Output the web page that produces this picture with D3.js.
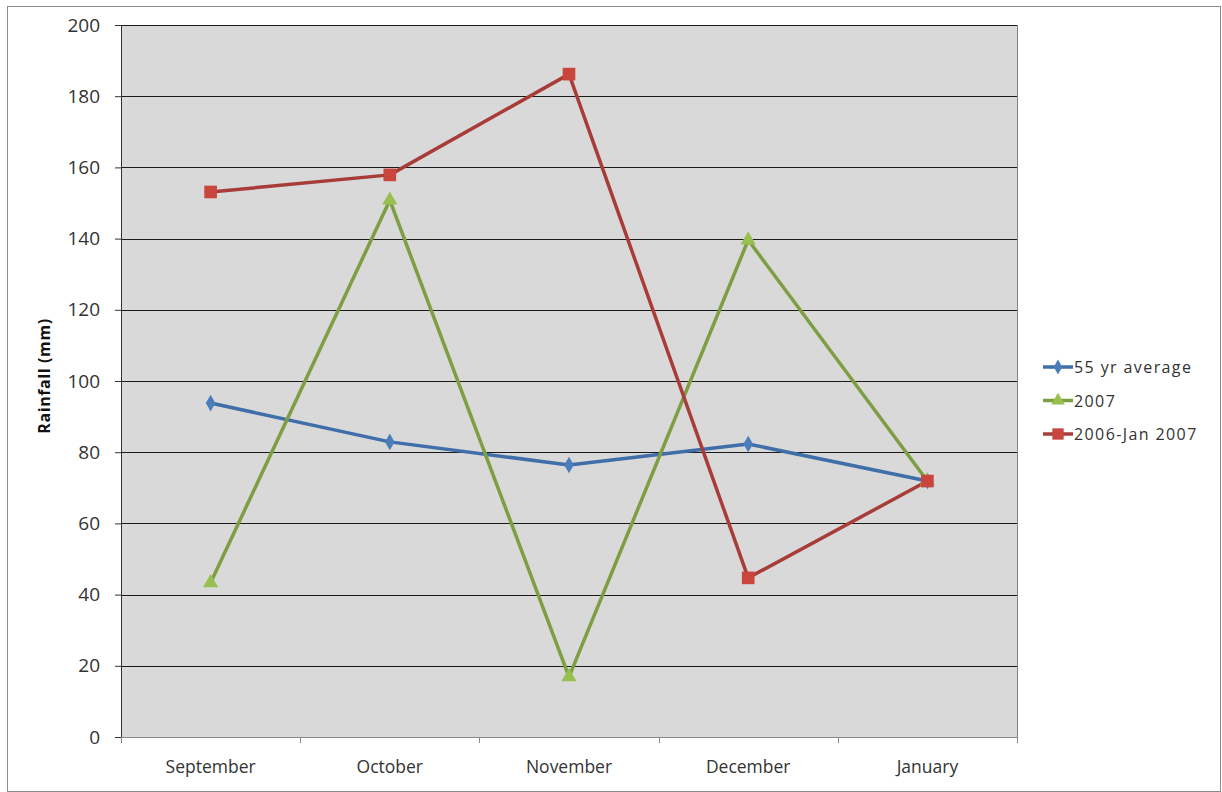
<!DOCTYPE html>
<html><head><meta charset="utf-8">
<script src="https://cdn.jsdelivr.net/npm/d3@7"></script>
<style>body{margin:0;background:#fff}svg{display:block}text{font-family:"Open Sans","Noto Sans",sans-serif}</style>
</head><body><svg id="c" width="1222" height="792"></svg>
<script>
const months = ["September","October","November","December","January"];
const avg55 = [93.8, 82.9, 76.4, 82.3, 71.9];
const y2007 = [43.3, 150.8, 16.9, 139.6, 71.9];
const y2006 = [153.1, 157.9, 186.2, 44.7, 71.9];
const yTicks = [0,20,40,60,80,100,120,140,160,180,200];
const seriesNames = ["55 yr average","2007","2006-Jan 2007"];

const svg = d3.select("#c");
const L=121, R=1017, T=25, B=737;
svg.append("rect").attr("x",7.5).attr("y",6.5).attr("width",1213).attr("height",785).attr("fill","#fff").attr("stroke","#8c8c8c");

const x = d3.scaleBand().domain(months).range([L,R]);
const y = d3.scaleLinear().domain([0,200]).range([B,T]);

svg.append("rect").attr("x",L).attr("y",T).attr("width",R-L).attr("height",B-T).attr("fill","#d9d9d9");
// grid
svg.append("g").selectAll("line").data(yTicks.filter(d=>d>0)).join("line")
  .attr("x1",L).attr("x2",R).attr("y1",d=>Math.round(y(d))+0.5).attr("y2",d=>Math.round(y(d))+0.5)
  .attr("stroke","#1a1a1a").attr("stroke-width",1);
svg.append("line").attr("x1",R+0.5).attr("x2",R+0.5).attr("y1",T).attr("y2",B+6).attr("stroke","#808080");

const ya = svg.append("g").attr("transform",`translate(${L},0)`).call(d3.axisLeft(y).tickValues(yTicks).tickSize(6).tickPadding(15));
ya.select(".domain").attr("stroke","#333");
ya.selectAll(".tick line").attr("stroke","#333");
ya.selectAll("text").attr("font-size",19).attr("fill","#333");

const xa = svg.append("g").attr("transform",`translate(0,${B})`).call(d3.axisBottom(x).tickSize(0).tickPadding(24));
xa.select(".domain").attr("stroke","#888");
xa.selectAll("text").attr("font-size",17.5).attr("fill","#333");
svg.append("g").selectAll("line").data(months.concat(["_end"])).join("line")
  .attr("x1",(d,i)=>Math.round(L+i*x.bandwidth())+0.5).attr("x2",(d,i)=>Math.round(L+i*x.bandwidth())+0.5)
  .attr("y1",B).attr("y2",B+6).attr("stroke","#888");

svg.append("text").attr("transform",`translate(50,${(T+B)/2-5}) rotate(-90)`).attr("text-anchor","middle")
  .attr("font-size",16).attr("font-weight","bold").attr("letter-spacing",0.6).attr("fill","#111").text("Rainfall (mm)");

const cx = m => x(m)+x.bandwidth()/2;
const series = [
  {name:seriesNames[0], vals:avg55, line:"#3f6ea8", mark:"#4a7ebb", shape:d3.symbolDiamond, size:80},
  {name:seriesNames[1], vals:y2007, line:"#7d9e43", mark:"#98c050", shape:d3.symbolTriangle, size:100},
  {name:seriesNames[2], vals:y2006, line:"#a83c39", mark:"#c9463f", shape:d3.symbolSquare, size:160},
];
const line = d3.line().x((d,i)=>cx(months[i])).y(d=>y(d));
series.forEach(s=>{
  svg.append("path").attr("d",line(s.vals)).attr("fill","none").attr("stroke",s.line).attr("stroke-width",3.5).attr("stroke-linejoin","round");
});
series.forEach(s=>{
  svg.append("g").selectAll("path").data(s.vals).join("path")
    .attr("transform",(d,i)=>`translate(${cx(months[i])},${y(d)})`)
    .attr("d",d3.symbol().type(s.shape).size(s.size)).attr("fill",s.mark);
});
// legend
const lg = svg.append("g");
series.forEach((s,i)=>{
  const yy = 367 + i*33.5;
  lg.append("line").attr("x1",1043).attr("x2",1073).attr("y1",yy).attr("y2",yy).attr("stroke",s.line).attr("stroke-width",3.5);
  lg.append("path").attr("transform",`translate(1058,${yy})`).attr("d",d3.symbol().type(s.shape).size(s.size*0.8)).attr("fill",s.mark);
  lg.append("text").attr("x",1074).attr("y",yy+6).attr("font-size",16).attr("letter-spacing",1.4).attr("fill","#333").text(s.name);
});
</script></body></html>
